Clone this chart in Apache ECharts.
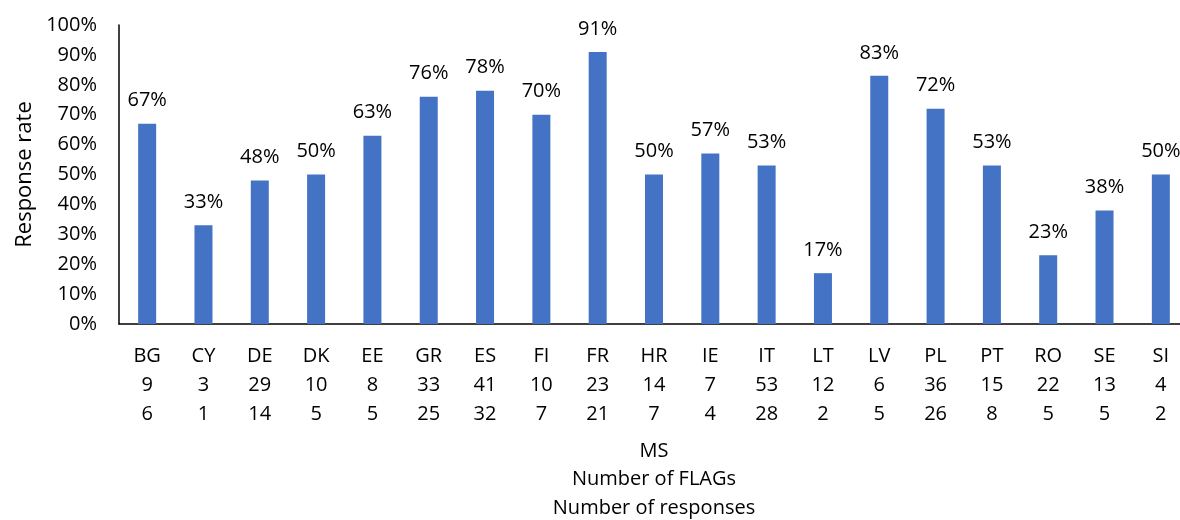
<!DOCTYPE html>
<html>
<head>
<meta charset="utf-8">
<script src="https://cdn.jsdelivr.net/npm/echarts@6/dist/echarts.min.js"></script>
<style>
  html, body { margin: 0; padding: 0; background: #fff; }
  #chart { width: 1180px; height: 520px; }
</style>
</head>
<body>
<div id="chart"></div>
<script>
// member states, flags sent, responses received, response rate (%)
const msList = ["BG", "CY", "DE", "DK", "EE", "GR", "ES", "FI", "FR", "HR", "IE", "IT", "LT", "LV", "PL", "PT", "RO", "SE", "SI"];
const flagList = [9, 3, 29, 10, 8, 33, 41, 10, 23, 14, 7, 53, 12, 6, 36, 15, 22, 13, 4];
const responseList = [6, 1, 14, 5, 5, 25, 32, 7, 21, 7, 4, 28, 2, 5, 26, 8, 5, 5, 2];
const rateList = [67, 33, 48, 50, 63, 76, 78, 70, 91, 50, 57, 53, 17, 83, 72, 53, 23, 38, 50];
const yTicks = [0, 10, 20, 30, 40, 50, 60, 70, 80, 90, 100];

const font = "'Open Sans', 'Noto Sans', sans-serif";
const chart = echarts.init(document.getElementById("chart"));

const option = {
    animation: false,
    textStyle: { fontFamily: font },
    grid: {
        left: 119,
        width: 1070, // plot runs past the right edge, like the original
        top: 25,
        bottom: 196,
        containLabel: false,
        outerBoundsMode: "none",
    },
    xAxis: {
        type: "category",
        data: msList,
        name: "MS\nNumber of FLAGs\nNumber of responses",
        nameLocation: "middle",
        nameGap: 113,
        nameTextStyle: { color: "#000", fontSize: 20, lineHeight: 28.5, fontFamily: font },
        axisLine: { lineStyle: { color: "#000", width: 1.5 } },
        axisTick: { show: false },
        axisLabel: {
            color: "#000",
            fontSize: 20,
            lineHeight: 29,
            margin: 18,
            interval: 0,
            fontFamily: font,
            formatter: (v, i) => v + "\n" + flagList[i] + "\n" + responseList[i],
        },
    },
    yAxis: {
        type: "value",
        min: yTicks[0],
        max: yTicks[yTicks.length - 1],
        interval: 10,
        name: "Response rate",
        nameLocation: "middle",
        nameGap: 76,
        nameTextStyle: { color: "#000", fontSize: 22, fontFamily: font },
        axisLine: { show: true, lineStyle: { color: "#000", width: 1.5 } },
        axisTick: { show: false },
        splitLine: { show: false },
        axisLabel: {
            color: "#000",
            fontSize: 20,
            margin: 22,
            fontFamily: font,
            formatter: "{value}%",
        },
    },
    series: [{
        type: "bar",
        data: rateList,
        barWidth: 18,
        itemStyle: { color: "#4472C4" },
        label: {
            show: true,
            position: "top",
            distance: 13,
            color: "#000",
            fontSize: 20,
            fontFamily: font,
            formatter: "{c}%",
        },
    }],
};
chart.setOption(option);
</script>
</body>
</html>
